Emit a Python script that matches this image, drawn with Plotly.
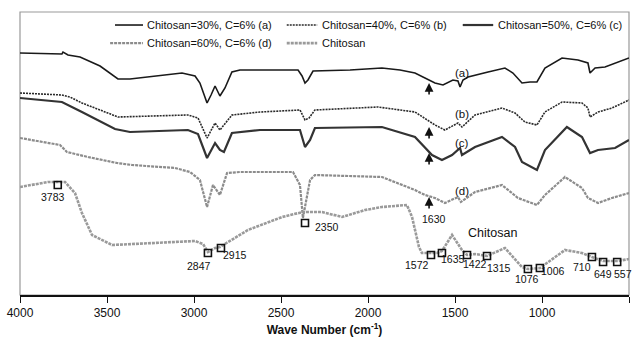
import plotly.graph_objects as go

# ---------------- data (wavenumber cm-1, transmittance a.u.) ----------------
a_wn = [4000, 3759, 3753, 3724, 3655, 3540, 3437, 3368, 3069, 2994, 2966, 2925, 2902, 2879, 2851, 2822, 2782,
        2736, 2402, 2379, 2362, 2345, 2316, 2103, 1920, 1816, 1730, 1672, 1615, 1569, 1512, 1483, 1471, 1454,
        1425, 1310, 1213, 1167, 1115, 1069, 1029, 983, 885, 793, 736, 724, 695, 638, 500]
a_t = [242, 241, 243, 240, 238, 229, 216, 216, 222, 219, 212, 192, 200, 209, 199, 207, 223,
       225, 225, 219, 212, 215, 224, 225, 227, 225, 222, 217, 212, 210, 215, 214, 208, 215,
       218, 223, 227, 222, 212, 213, 213, 227, 237, 235, 232, 222, 227, 228, 237]

b_wn = [4000, 3759, 3713, 3644, 3540, 3437, 3035, 2977, 2925, 2879, 2851, 2782, 2621, 2391, 2362, 2339, 2305,
        1943, 1730, 1672, 1615, 1558, 1483, 1460, 1385, 1230, 1155, 1098, 1029, 983, 885, 770, 736, 724,
        678, 598, 500]
b_t = [202, 200, 198, 192, 185, 178, 180, 177, 157, 172, 165, 180, 183, 185, 175, 177, 185,
       188, 183, 176, 170, 165, 172, 168, 180, 187, 182, 173, 170, 183, 193, 192, 187, 178,
       183, 187, 195]

c_wn = [4000, 3759, 3644, 3454, 3368, 3035, 2977, 2925, 2879, 2851, 2828, 2782, 2621, 2391, 2362, 2333, 2305,
        1920, 1730, 1672, 1632, 1575, 1517, 1471, 1460, 1385, 1230, 1155, 1115, 1029, 983, 857, 770, 724,
        678, 580, 500]
c_t = [197, 193, 183, 166, 163, 165, 161, 137, 152, 145, 143, 162, 165, 165, 148, 155, 167,
       168, 158, 147, 140, 135, 140, 147, 140, 148, 158, 148, 133, 125, 145, 168, 158, 142,
       145, 147, 155]

d_wn = [4000, 3770, 3730, 3609, 3443, 3356, 3109, 3023, 2966, 2925, 2891, 2851, 2810, 2736, 2431, 2391, 2374,
        2356, 2333, 2305, 1920, 1730, 1672, 1615, 1558, 1483, 1466, 1385, 1230, 1138, 1029, 983, 868, 770,
        736, 678, 598, 500]
d_t = [157, 150, 143, 138, 132, 130, 127, 123, 115, 88, 110, 100, 122, 123, 123, 110, 77,
       95, 115, 120, 118, 105, 100, 97, 92, 98, 93, 103, 110, 97, 90, 100, 118, 107,
       97, 92, 97, 102]

ch_wn = [4000, 3839, 3741, 3684, 3644, 3586, 3471, 2994, 2948, 2920, 2879, 2851, 2690, 2494, 2374, 2264, 2149,
         2017, 1920, 1776, 1747, 1707, 1690, 1655, 1604, 1575, 1517, 1460, 1431, 1385, 1316, 1213, 1167, 1115,
         1081, 1012, 868, 770, 713, 649, 563, 500]
ch_t = [108, 113, 113, 102, 82, 60, 50, 54, 51, 43, 47, 48, 65, 78, 83, 83, 78,
        85, 88, 90, 78, 48, 42, 42, 42, 44, 60, 45, 40, 41, 39, 47, 38, 28,
        26, 27, 45, 42, 38, 34, 34, 36]

peak_wn = [3783, 2920, 2845, 2362, 1638, 1575, 1431, 1316, 1081, 1012, 713, 649, 568]
peak_t = [110, 42, 47, 72, 40, 42, 40, 39, 26, 27, 38, 33, 33]
peak_labels = ["3783", "2847", "2915", "2350", "1572", "1635", "1422", "1315", "1076", "1006", "710", "649", "557"]
label_shift = [(-5, -12), (-9, -13), (14, -7), (22, -4), (-14, -10), (11, -6), (8, -9), (12, -12),
               (-1, -10), (13, -3), (-10, -10), (0, -12), (6, -12)]

arrow_wn = 1649
arrow_tips = [212, 168, 142, 98]
curve_tags = ["(a)", "(b)", "(c)", "(d)"]
tag_t = [222, 181, 152, 104]

x_ticks = [4000, 3500, 3000, 2500, 2000, 1500, 1000, 500]

legend_names = ["Chitosan=30%, C=6% (a)", "Chitosan=40%, C=6% (b)", "Chitosan=50%, C=6% (c)",
                "Chitosan=60%, C=6% (d)", "Chitosan"]

# ---------------- styles ----------------
FONT = "Liberation Sans, Arial, sans-serif"
styles = [
    dict(color="#1a1a1a", width=1.6, dash="solid"),
    dict(color="#2a2a2a", width=1.6, dash="2px,1px"),
    dict(color="#333333", width=2.2, dash="solid"),
    dict(color="#8c8c8c", width=2.2, dash="3px,1px"),
    dict(color="#9a9a9a", width=2.6, dash="3px,1px"),
]

fig = go.Figure()
series = [(a_wn, a_t), (b_wn, b_t), (c_wn, c_t), (d_wn, d_t), (ch_wn, ch_t)]
for (xw, yt), st, nm in zip(series, styles, legend_names):
    fig.add_trace(go.Scatter(x=xw, y=yt, mode="lines", line=st, name=nm, showlegend=False,
                             hoverinfo="skip"))

fig.add_trace(go.Scatter(x=peak_wn, y=peak_t, mode="markers", showlegend=False,
                         marker=dict(symbol="square-open", size=7, color="#111", line=dict(width=1.6))))

annotations = []
for xw, yt, lab, (dx, dy) in zip(peak_wn, peak_t, peak_labels, label_shift):
    annotations.append(dict(x=xw, y=yt, text=lab, showarrow=False, xshift=dx, yshift=dy,
                            font=dict(family=FONT, size=10.5, color="#111")))
for tip in arrow_tips:
    annotations.append(dict(x=arrow_wn, y=tip, ax=0, ay=13, text="", showarrow=True, arrowhead=2,
                            arrowsize=1.1, arrowwidth=1.6, arrowcolor="#111"))
annotations.append(dict(x=arrow_wn, y=arrow_tips[3], text="1630", showarrow=False, yshift=-22, xshift=5,
                        font=dict(family=FONT, size=10.5, color="#111")))
for tg, yt in zip(curve_tags, tag_t):
    annotations.append(dict(x=1460, y=yt, text=tg, showarrow=False,
                            font=dict(family=FONT, size=11.5, color="#111")))
annotations.append(dict(x=1287, y=62, text="Chitosan", showarrow=False,
                        font=dict(family=FONT, size=12.5, color="#111")))

# manual legend (paper coordinates)
leg_pos = [(0.156, 0.954), (0.438, 0.954), (0.727, 0.954), (0.148, 0.890), (0.438, 0.890)]
shapes = [dict(type="rect", xref="paper", yref="paper", x0=0, x1=1, y0=0, y1=1,
               line=dict(color="#999", width=1.2), layer="below")]
for (px, py), st, nm in zip(leg_pos, styles, legend_names):
    x1 = 0.202 if px < 0.3 else px + 0.050
    shapes.append(dict(type="line", xref="paper", yref="paper", x0=px, x1=x1,
                       y0=py, y1=py, line=dict(color=st["color"], width=st["width"], dash=st["dash"])))
    annotations.append(dict(xref="paper", yref="paper", x=x1 + 0.004, y=py, xanchor="left", yanchor="middle",
                            text=nm, showarrow=False, font=dict(family=FONT, size=11, color="#111")))

fig.update_layout(
    width=636, height=342,
    margin=dict(l=20, r=7, t=12, b=47),
    paper_bgcolor="white", plot_bgcolor="white",
    shapes=shapes, annotations=annotations,
    xaxis=dict(range=[4000, 500], tickvals=x_ticks, ticktext=[str(v) for v in x_ticks],
               showgrid=False, zeroline=False, showline=True, linecolor="#111", linewidth=1.6,
               ticks="outside", ticklen=6, tickwidth=1.4, tickcolor="#111",
               tickfont=dict(family=FONT, size=12, color="#111"),
               title=dict(text="<b>Wave Number (cm<sup>-1</sup>)</b>", standoff=6,
                          font=dict(family=FONT, size=12, color="#111"))),
    yaxis=dict(range=[0, 283], visible=False, showgrid=False, zeroline=False),
)

fig.write_html("out.html")
